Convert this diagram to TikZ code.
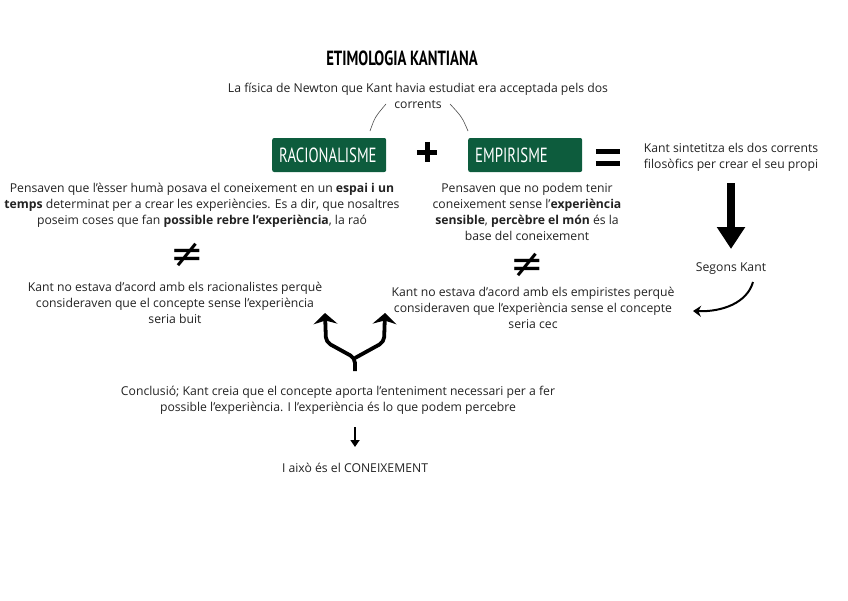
\documentclass[tikz,border=0pt]{standalone}
\usepackage{fontspec}
\setmainfont{Open Sans}
\newfontfamily\titlefont[FakeStretch=0.72]{PT Sans}
\newfontfamily\symfont{DejaVu Sans}
\usetikzlibrary{arrows.meta}
\definecolor{boxgreen}{HTML}{0D5C3D}
\definecolor{txtgray}{HTML}{222222}
\tikzset{
  txt/.style={align=center, font=\fontsize{12.2}{16}\selectfont, inner sep=0pt, text=txtgray},
  greenbox/.style={fill=boxgreen, rounded corners=2pt, minimum height=34pt,
    text width=100pt, align=left, inner xsep=7pt, anchor=west, text=white,
    font=\titlefont\fontsize{20.5}{20}\selectfont},
  neq/.style={inner sep=0pt, font=\symfont\fontsize{40}{40}\selectfont},
  fork/.style={line width=3.8pt, line join=round, rounded corners=5pt, -{Stealth[length=11pt,width=24pt,inset=3.5pt]}},
  thinarc/.style={line width=0.6pt, draw=black!70},
}
\begin{document}
\begin{tikzpicture}[x=1pt,y=-1pt]
\useasboundingbox (0,0) rectangle (848,600);

% title
\node[inner sep=0pt, font=\titlefont\bfseries\fontsize{20.5}{20}\selectfont] (title) at (402,58) {ETIMOLOGIA KANTIANA};

% Newton text
\node[txt] (newton) at (418,96) {La física de Newton que Kant havia estudiat era acceptada pels dos\\corrents};

% boxes
\node[greenbox] (rac) at (272,155) {RACIONALISME};
\node[greenbox] (emp) at (468,155) {EMPIRISME};

% arcs from Newton text to boxes
\coordinate (a1) at (386,104);
\coordinate (a2) at (450,104);
\coordinate (r1) at (370,131);
\coordinate (e1) at (468,131);
\draw[thinarc] (r1) .. controls (375,117) .. (a1);
\draw[thinarc] (e1) .. controls (462,117) .. (a2);

% plus sign
\node[inner sep=0pt, minimum size=20pt] (plus) at (427,152) {};
\draw[line width=5pt] (plus.west) -- (plus.east);
\draw[line width=5pt] (plus.north) -- (plus.south);

% equals sign
\node[inner sep=0pt, minimum width=24pt, minimum height=17pt] (eq) at (608,157) {};
\draw[line width=5pt] (eq.west |- 0,151) -- (eq.east |- 0,151);
\draw[line width=5pt] (eq.west |- 0,163) -- (eq.east |- 0,163);

% Kant sintetitza
\node[txt] (sint) at (731,157) {Kant sintetitza els dos corrents\\filosòfics per crear el seu propi};

% big down arrow
\node[txt] (segons) at (731,269) {Segons Kant};
\coordinate (bigtop) at (731,183);
\coordinate (bigtip) at (731,249);
\draw[line width=8pt, -{Triangle[length=22pt,width=27pt]}] (bigtop) -- (bigtip);

% left text
\node[txt] (ltext) at (202,205) {Pensaven que l’èsser humà posava el coneixement en un \textbf{espai i un}\\\textbf{temps} determinat per a crear les experiències. Es a dir, que nosaltres\\poseim coses que fan \textbf{possible rebre l’experiència}, la raó};

% middle text
\node[txt] (mtext) at (527,212) {Pensaven que no podem tenir\\coneixement sense l’\textbf{experiència}\\\textbf{sensible}, \textbf{percèbre el món} és la\\base del coneixement};

% not-equal signs
\node[neq] (ne1) at (187,255) {≠};
\node[neq] (ne2) at (527,265) {≠};

% Kant disagreement texts
\node[txt] (lkant) at (175,303) {Kant no estava d’acord amb els racionalistes perquè\\consideraven que el concepte sense l’experiència\\seria buit};
\node[txt] (mkant) at (533,308) {Kant no estava d’acord amb els empiristes perquè\\consideraven que l’experiència sense el concepte\\seria cec};

% curved arrow from Segons Kant to middle text
\coordinate (c1) at (753,282);
\coordinate (c2) at (693,311);
\draw[line width=2pt, -{Stealth[length=8pt,width=11pt]}] (c1) .. controls (747,303) and (722,312) .. (c2);

% conclusion
\node[txt] (concl) at (338,400) {Conclusió; Kant creia que el concepte aporta l’enteniment necessari per a fer\\possible l’experiència. I l’experiència és lo que podem percebre};

% forked arrow
\coordinate (stem) at (355,371);
\coordinate (junc) at (355,358);
\draw[fork] (stem) -- (junc) -- (326,342) -- (325,313);
\draw[fork] (junc) -- (384,342) -- (385,313);

% final
\node[txt] (final) at (355,468) {I això és el CONEIXEMENT};
\coordinate (s1) at (355,427);
\coordinate (s2) at (355,447);
\draw[line width=2.6pt, -{Triangle[length=7pt,width=9pt]}] (s1) -- (s2);
\end{tikzpicture}
\end{document}
